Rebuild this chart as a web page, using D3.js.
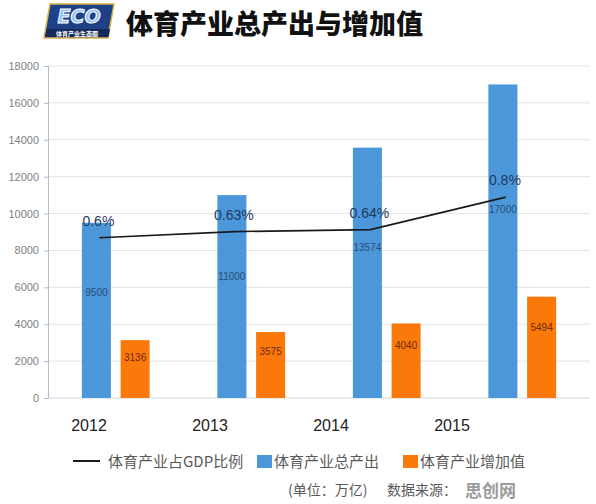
<!DOCTYPE html>
<html>
<head>
<meta charset="utf-8">
<script src="https://cdn.jsdelivr.net/npm/d3@7"></script>
<style>
  body { margin: 0; background: #fff; }
  svg { display: block; }
  text { font-family: "Noto Sans CJK SC", "Liberation Sans", sans-serif; }
</style>
</head>
<body>
<svg id="graphe" width="596" height="504"></svg>
<script>
// Données
const annees = ['2012', '2013', '2014', '2015']
const totalProduction = [9500, 11000, 13574, 17000]
const valeurAjoutee = [3136, 3575, 4040, 5494]
const partPIB = [0.6, 0.63, 0.64, 0.8]
const libellesPart = ['0.6%', '0.63%', '0.64%', '0.8%']
const ticksY = [0, 2000, 4000, 6000, 8000, 10000, 12000, 14000, 16000, 18000]
const series = ['total', 'ajout']

const bleu = '#4b97d9'
const orange = '#fb790b'

const svg = d3.select('#graphe')

// ÉCHELLES
const y = d3.scaleLinear().domain([0, 18000]).range([398, 66])
const x0 = d3.scaleBand().domain(annees).range([48, 590]).paddingInner(0.5).paddingOuter(0.25)
const x1 = d3.scaleBand().domain(series).range([0, x0.bandwidth()]).paddingInner(0.25)
// les libellés d'années sont un peu décalés vers la gauche sur l'original
const xLibelle = d3.scalePoint().domain(annees).range([89, 452])
// axe secondaire (caché) pour la part du PIB
const yPart = d3.scaleLinear().domain([0.6, 0.8]).range([y(8690), y(10890)])

// GRILLE ET AXE Y
svg.append('g')
    .selectAll('line')
    .data(ticksY.slice(1))
    .join('line')
    .attr('x1', 48).attr('x2', 590)
    .attr('y1', d => y(d)).attr('y2', d => y(d))
    .style('stroke', '#e3e3e3')
    .style('stroke-width', 1)

const axeY = svg.append('g')
    .attr('transform', 'translate(48,0)')
    .call(d3.axisLeft(y).tickValues(ticksY).tickSize(4).tickPadding(5).tickFormat(d3.format('d')))
axeY.select('.domain').style('stroke', '#a9bfd6')
axeY.selectAll('.tick line').style('stroke', '#a9bfd6')
axeY.selectAll('.tick text')
    .style('font-family', '"Liberation Sans", sans-serif')
    .style('font-size', '11px')
    .style('fill', '#808080')

// ligne de base
svg.append('line')
    .attr('x1', 48).attr('x2', 590)
    .attr('y1', y(0)).attr('y2', y(0))
    .style('stroke', '#d0d8e0')

// BARRES
const groupes = svg.append('g')
    .selectAll('g')
    .data(annees.map((a, i) => ({ annee: a, total: totalProduction[i], ajout: valeurAjoutee[i] })))
    .join('g')
    .attr('transform', d => `translate(${x0(d.annee)},0)`)

groupes.selectAll('rect')
    .data(d => series.map(s => ({ cle: s, valeur: d[s] })))
    .join('rect')
    .attr('x', d => x1(d.cle))
    .attr('y', d => y(d.valeur))
    .attr('width', x1.bandwidth())
    .attr('height', d => y(0) - y(d.valeur))
    .attr('fill', d => d.cle === 'total' ? bleu : orange)

groupes.selectAll('text')
    .data(d => series.map(s => ({ cle: s, valeur: d[s] })))
    .join('text')
    .attr('x', d => x1(d.cle) + x1.bandwidth() / 2)
    .attr('y', d => y(d.valeur * (d.cle === 'total' ? 0.6 : 0.7)))
    .attr('dy', '0.35em')
    .attr('text-anchor', 'middle')
    .style('font-family', '"Liberation Sans", sans-serif')
    .style('font-size', '10px')
    .style('fill', d => d.cle === 'total' ? '#2c4d75' : '#6e2a08')
    .text(d => d.valeur)

// LIGNE DE LA PART DU PIB
const pointsPart = annees.map((a, i) => ({
    x: x0(a) + x1('total') + x1.bandwidth() / 2 + 3,
    y: yPart(partPIB[i]),
    libelle: libellesPart[i]
}))

svg.append('path')
    .datum(pointsPart)
    .attr('d', d3.line().x(d => d.x).y(d => d.y))
    .style('fill', 'none')
    .style('stroke', '#1a1a1a')
    .style('stroke-width', 1.6)

svg.append('g')
    .selectAll('text')
    .data(pointsPart)
    .join('text')
    .attr('x', d => d.x - 1)
    .attr('y', d => d.y - 17)
    .attr('dy', '0.35em')
    .attr('text-anchor', 'middle')
    .style('font-family', '"Liberation Sans", sans-serif')
    .style('font-size', '14px')
    .style('fill', '#1f3a5f')
    .text(d => d.libelle)

// LIBELLÉS DES ANNÉES
svg.append('g')
    .selectAll('text')
    .data(annees)
    .join('text')
    .attr('x', d => xLibelle(d))
    .attr('y', 431)
    .attr('text-anchor', 'middle')
    .style('font-family', '"Liberation Sans", sans-serif')
    .style('font-size', '16px')
    .style('fill', '#222')
    .text(d => d)

// LÉGENDE
const legende = svg.append('g').style('font-size', '15px').style('fill', '#5a5a5a')
legende.append('line')
    .attr('x1', 73).attr('x2', 100).attr('y1', 461).attr('y2', 461)
    .style('stroke', '#1a1a1a').style('stroke-width', 2)
legende.append('text').attr('x', 108).attr('y', 466.5).text('体育产业占GDP比例')
legende.append('rect').attr('x', 257).attr('y', 455).attr('width', 15).attr('height', 13).attr('fill', bleu)
legende.append('text').attr('x', 274).attr('y', 466.5).text('体育产业总产出')
legende.append('rect').attr('x', 403).attr('y', 455).attr('width', 15).attr('height', 13).attr('fill', orange)
legende.append('text').attr('x', 420).attr('y', 466.5).text('体育产业增加值')

// PIED DE PAGE
svg.append('text').attr('x', 288).attr('y', 495)
    .style('font-size', '14px').style('fill', '#5a5a5a').text('(单位：万亿)')
svg.append('text').attr('x', 387).attr('y', 495)
    .style('font-size', '14px').style('fill', '#5a5a5a').text('数据来源：')
svg.append('text').attr('x', 465).attr('y', 497)
    .style('font-size', '17px').style('font-weight', 'bold').style('fill', '#8a8a8a')
    .style('opacity', 0.85).text('思创网')

// TITRE
svg.append('text').attr('x', 126).attr('y', 34)
    .style('font-size', '27px').style('font-weight', 900).style('fill', '#111')
    .text('体育产业总产出与增加值')

// LOGO ECO
const logo = svg.append('g').attr('transform', 'translate(44,4)')
logo.append('path')
    .attr('d', 'M6,0 L70,0 L64,34 L0,34 Z')
    .attr('fill', '#1f3f86')
    .style('stroke', '#d9b24a')
    .style('stroke-width', 1.5)
logo.append('path')
    .attr('d', 'M2.5,25 L66,25 L64.5,33 L1,33 Z')
    .attr('fill', '#142a5c')
logo.append('text')
    .attr('x', 35).attr('y', 19)
    .attr('text-anchor', 'middle')
    .style('font-family', '"DejaVu Sans", sans-serif')
    .style('font-size', '19px').style('font-weight', 'bold').style('font-style', 'italic')
    .style('fill', '#8fc3f0').style('stroke', '#ffffff').style('stroke-width', 1)
    .text('ECO')
logo.append('text')
    .attr('x', 33).attr('y', 32)
    .attr('text-anchor', 'middle')
    .style('font-size', '6px').style('fill', '#ffffff').style('font-weight', 'bold')
    .text('体育产业生态圈')
</script>
</body>
</html>
